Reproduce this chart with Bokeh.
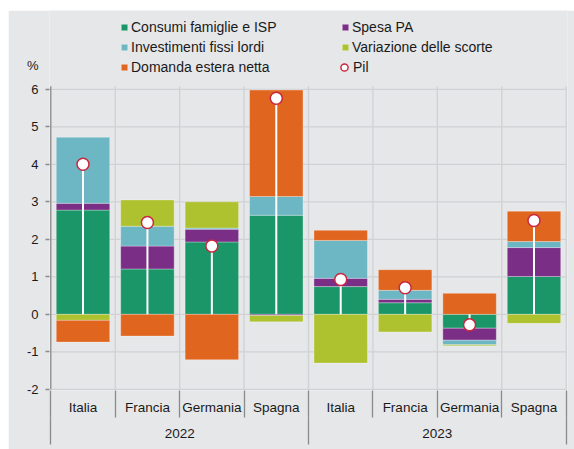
from bokeh.plotting import figure
from bokeh.models import (ColumnDataSource, FixedTicker, LinearAxis, Legend,
                          LegendItem, Range1d)
from bokeh.embed import file_html
from bokeh.resources import INLINE

# ---------------- data ----------------
years = ["2022", "2023"]
countries = ["Italia", "Francia", "Germania", "Spagna"]

consumi      = [2.78, 1.21, 1.93, 2.64, 0.74, 0.31, -0.37, 1.01]
spesa_pa     = [0.18, 0.61, 0.34, -0.03, 0.22, 0.09, -0.32, 0.77]
investimenti = [1.76, 0.53, 0.03, 0.50, 1.01, 0.24, -0.12, 0.16]
scorte       = [-0.16, 0.70, 0.70, -0.17, -1.30, -0.47, -0.03, -0.24]
domanda_est  = [-0.58, -0.58, -1.21, 2.84, 0.27, 0.55, 0.56, 0.81]
pil          = [4.00, 2.45, 1.82, 5.76, 0.93, 0.71, -0.28, 2.50]

series_names = ["Consumi famiglie e ISP", "Spesa PA", "Investimenti fissi lordi",
                "Variazione delle scorte", "Domanda estera netta"]
series_vals = [consumi, spesa_pa, investimenti, scorte, domanda_est]
series_colors = ["#1b9669", "#7b2e86", "#6db6c4", "#aec22f", "#e0661f"]
pil_name = "Pil"
unit_label = "%"
y_ticks = [-2, -1, 0, 1, 2, 3, 4, 5, 6]

# ---------------- style ----------------
BG = "#e6e7e9"
GRID = "#d0d1d4"
AXIS = "#8a8a8a"
TXT = "#1a1a1a"
FONT = "Liberation Sans"
GRID_TOP = 6.08      # where the plot area (grid) ends at the top
UNIT_POS = 6.63      # vertical position of the "%" unit label

labels = [(y, c) for y in years for c in countries]
n = len(labels)
centers = [i + 0.5 for i in range(n)]
bounds = list(range(n + 1))
nc = len(countries)
year_centers = [k * nc + nc / 2 for k in range(len(years))]
year_bounds = [k * nc for k in range(len(years) + 1)]

p = figure(width=566, height=439, margin=(10, 0, 0, 8),
           x_range=Range1d(-0.02, n + 0.02), y_range=Range1d(-2.03, 8.10),
           output_backend="svg", toolbar_location=None,
           min_border_left=41, min_border_right=7,
           min_border_top=0, min_border_bottom=59,
           background_fill_color=BG, border_fill_color=BG,
           outline_line_color=None)
p.xgrid.visible = False
p.ygrid.visible = False

# grid lines of the plot area
hsrc = ColumnDataSource(dict(y=y_ticks, x0=[bounds[0]] * len(y_ticks),
                             x1=[bounds[-1]] * len(y_ticks)))
p.segment(x0="x0", y0="y", x1="x1", y1="y", source=hsrc,
          line_color=GRID, line_width=1.3)
vsrc = ColumnDataSource(dict(x=bounds[1:], y0=[y_ticks[0]] * n,
                             y1=[GRID_TOP] * n))
p.segment(x0="x", y0="y0", x1="x", y1="y1", source=vsrc,
          line_color=GRID, line_width=1.3)
# value axis line
asrc = ColumnDataSource(dict(x=[bounds[0]], y0=[y_ticks[0]], y1=[GRID_TOP]))
p.segment(x0="x", y0="y0", x1="x", y1="y1", source=asrc,
          line_color=AXIS, line_width=1.3)

# stacked bars (positives up from 0, negatives down from 0)
pos = [0.0] * n
neg = [0.0] * n
bar_renderers = []
for name, vals, color in zip(series_names, series_vals, series_colors):
    bottom, top = [], []
    for i, v in enumerate(vals):
        if v >= 0:
            bottom.append(pos[i]); top.append(pos[i] + v); pos[i] += v
        else:
            bottom.append(neg[i]); top.append(neg[i] + v); neg[i] += v
    src = ColumnDataSource(dict(x=centers, bottom=bottom, top=top))
    r = p.vbar(x="x", width=0.83, bottom="bottom", top="top", source=src,
               fill_color=color, line_color="white", line_alpha=0.3, line_width=1)
    bar_renderers.append(r)

# Pil lollipop
psrc = ColumnDataSource(dict(x=centers, y=pil, zero=[0] * n))
p.segment(x0="x", y0="zero", x1="x", y1="y", source=psrc,
          line_color="white", line_width=2)
pil_r = p.scatter(x="x", y="y", source=psrc, marker="circle", size=12,
                  fill_color="white", line_color="#c8283f", line_width=1.5)

# y axis: numbers (plain hyphen minus) + "%" unit on top
ya = p.yaxis[0]
ya.ticker = FixedTicker(ticks=y_ticks + [UNIT_POS], minor_ticks=y_ticks)
overrides = {t: str(t) for t in y_ticks}
overrides[UNIT_POS] = unit_label
ya.major_label_overrides = overrides
ya.axis_line_color = None
ya.major_tick_line_color = None
ya.major_tick_out = 0
ya.major_tick_in = 0
ya.minor_tick_line_color = AXIS
ya.minor_tick_line_width = 1.3
ya.minor_tick_out = 4
ya.minor_tick_in = 0
ya.major_label_standoff = 7
ya.major_label_text_font = FONT
ya.major_label_text_font_size = "13px"
ya.major_label_text_color = TXT

def style_cat_axis(ax, standoff):
    ax.axis_line_color = None
    ax.major_tick_line_color = None
    ax.major_tick_out = 0
    ax.major_tick_in = 0
    ax.minor_tick_line_color = AXIS
    ax.minor_tick_line_width = 1.3
    ax.minor_tick_in = 0
    ax.minor_tick_out = 27
    ax.major_label_standoff = standoff
    ax.major_label_text_font = FONT
    ax.major_label_text_font_size = "13.5px"
    ax.major_label_text_color = TXT

# x axis, level 1: countries
xa = p.xaxis[0]
xa.ticker = FixedTicker(ticks=centers, minor_ticks=bounds)
xa.major_label_overrides = {c: lab[1] for c, lab in zip(centers, labels)}
style_cat_axis(xa, -18)

# x axis, level 2: years
xa2 = LinearAxis(ticker=FixedTicker(ticks=year_centers, minor_ticks=year_bounds))
xa2.major_label_overrides = {c: y for c, y in zip(year_centers, years)}
style_cat_axis(xa2, -16)
p.add_layout(xa2, "below")

# legends
def make_legend(items, loc, gw, gh, standoff):
    lg = Legend(items=items, location=loc, orientation="vertical",
                padding=0, spacing=0, margin=0,
                border_line_color=None, background_fill_alpha=0,
                glyph_width=gw, glyph_height=gh, label_height=20,
                label_standoff=standoff,
                label_text_font=FONT, label_text_font_size="14px",
                label_text_color=TXT)
    p.add_layout(lg, "center")

make_legend([LegendItem(label=series_names[i], renderers=[bar_renderers[i]]) for i in (0, 2, 4)],
            (71, 313), 8, 8, 3)
make_legend([LegendItem(label=series_names[i], renderers=[bar_renderers[i]]) for i in (1, 3)],
            (292, 333), 8, 8, 3)
make_legend([LegendItem(label=pil_name, renderers=[pil_r])],
            (286, 313), 18, 20, 0)

open("out.html", "w").write(file_html(p, INLINE))
